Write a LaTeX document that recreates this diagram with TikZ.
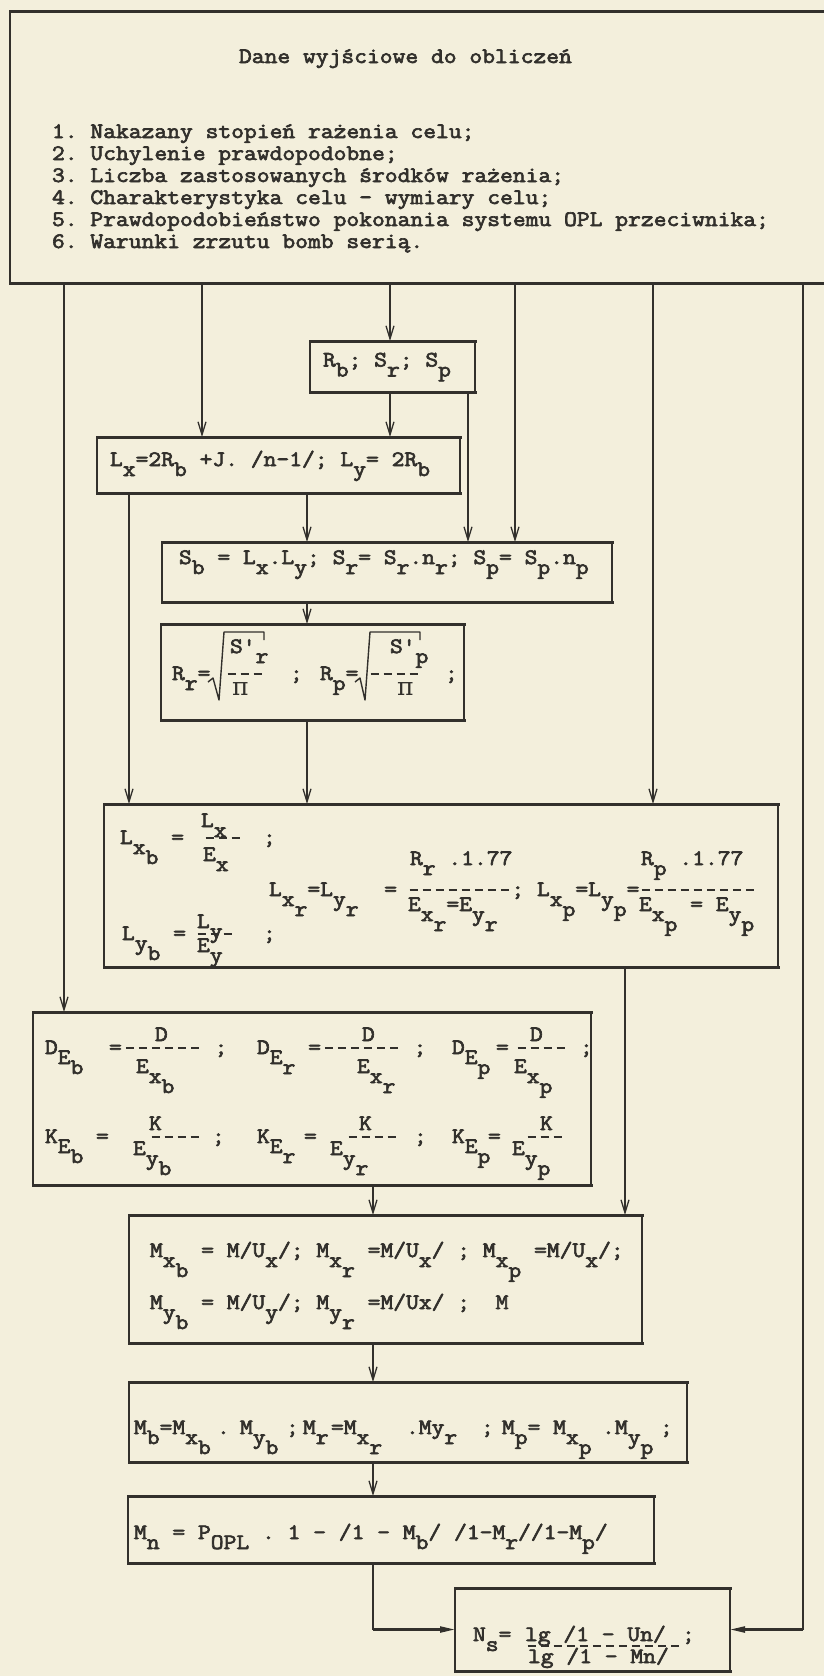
\documentclass[tikz,border=0pt]{standalone}
\usepackage{fontspec}
\setmonofont{Latin Modern Mono}[FakeStretch=1.13,FakeBold=3]
\newfontfamily\grk{DejaVu Serif}
\usetikzlibrary{arrows.meta}
\definecolor{paper}{RGB}{243,239,220}
\definecolor{ink}{RGB}{50,48,44}
\newcommand\lo[1]{\raisebox{-10pt}{#1}}
\newcommand\axy[3]{\rlap{\hspace*{#1pt}\raisebox{#2pt}{#3}}\ignorespaces}
\newcommand\PI{{\grk\fontsize{25}{25}\selectfont π}}
% typed fraction bar: x of first cell, y, number of cells
\newcommand\fbar[3]{\draw[fbar] ({#1+2.5},#2) -- ++({#3*13.05-5},0);}
\begin{document}
\begin{tikzpicture}[x=1pt,y=-1pt,
  every node/.style={font=\fontsize{22}{22}\selectfont\ttfamily\frenchspacing, text=ink},
  tb/.style={inner sep=0pt, outer sep=0pt, anchor=north west},
  side/.style={line width=1.8pt, draw=ink},
  hl/.style={line width=3pt, draw=ink, line cap=rect},
  wire/.style={line width=1.3pt, draw=ink},
  con/.style={wire, -{Straight Barb[length=13pt,width=8pt]}},
  conh/.style={line width=2.2pt, draw=ink, -{Triangle[length=15pt,width=6pt]}},
  rad/.style={line width=1.4pt, draw=ink, line join=round},
  fbar/.style={line width=1.6pt, draw=ink, dash pattern=on 8.05pt off 5pt}]
\useasboundingbox (0,0) rectangle (824,1676);
\fill[paper] (0,0) rectangle (824,1676);

\coordinate (x64) at (64,0);
\coordinate (x129) at (129,0);
\coordinate (x202) at (202,0);
\coordinate (x307) at (307,0);
\coordinate (x373) at (373,0);
\coordinate (x390) at (390,0);
\coordinate (x468) at (468,0);
\coordinate (x515) at (515,0);
\coordinate (x625) at (625,0);
\coordinate (x653) at (653,0);
\coordinate (x803) at (803,0);

% ---------------- boxes ----------------
\node[tb, text height=52pt, text depth=220pt] (b1) at (10,11) {\makebox[814pt][l]{%
\axy{229}{0}{Dane wyjściowe do obliczeń}%
\axy{42}{-75}{1. Nakazany stopień rażenia celu;}%
\axy{42}{-97}{2. Uchylenie prawdopodobne;}%
\axy{42}{-119}{3. Liczba zastosowanych środków rażenia;}%
\axy{42}{-141}{4. Charakterystyka celu - wymiary celu;}%
\axy{42}{-163}{5. Prawdopodobieństwo pokonania systemu OPL przeciwnika;}%
\axy{42}{-185}{6. Warunki zrzutu bomb serią.}%
}};

\node[tb, text height=25.5pt, text depth=25.5pt] (rb) at (310,341) {\makebox[165pt][l]{%
\axy{13}{0}{R\lo{b}; S\lo{r}; S\lo{p}}}};

\node[tb, text height=29pt, text depth=27pt] (b2) at (97,437) {\makebox[363pt][l]{%
\axy{13}{0}{L\lo{x}=2R\lo{b} +J. /n-1/; L\lo{y}= 2R\lo{b}}}};

\node[tb, text height=22pt, text depth=38pt] (b3) at (162,542) {\makebox[450pt][l]{%
\axy{17}{0}{S\lo{b} = L\lo{x}.L\lo{y}; S\lo{r}= S\lo{r}.n\lo{r}; S\lo{p}= S\lo{p}.n\lo{p}}}};

\node[tb, text height=56pt, text depth=40pt] (b4) at (161,624) {\makebox[303pt][l]{%
\axy{11}{0}{R\lo{r}=}%
\axy{69}{27}{S'\lo{r}}%
\axy{71}{-15}{\PI}%
\axy{129}{0}{;}%
\axy{159}{0}{R\lo{p}=}%
\axy{229}{27}{S'\lo{p}}%
\axy{236}{-15}{\PI}%
\axy{284}{0}{;}%
}};

\node[tb, text height=40pt, text depth=123pt] (b5) at (104,804) {\makebox[674pt][l]{%
\axy{16}{0}{L\lo{x\lo{b}} =}%
\axy{97}{17}{L\lo{x}}%
\axy{99}{-17}{E\lo{x}}%
\axy{159}{0}{;}%
\axy{18}{-96}{L\lo{y\lo{b}} =}%
\axy{93}{-84}{L\lo{y}}%
\axy{93}{-108}{E\lo{y}}%
\axy{159}{-96}{;}%
\axy{165}{-52}{L\lo{x\lo{r}}=L\lo{y\lo{r}}~~=}%
\axy{407.4}{-52}{; L\lo{x\lo{p}}=L\lo{y\lo{p}}=}%
\axy{306}{-21}{R\lo{r} .1.77}%
\axy{304}{-67}{E\lo{x\lo{r}}=E\lo{y\lo{r}}}%
\axy{537}{-21}{R\lo{p} .1.77}%
\axy{535}{-67}{E\lo{x\lo{p}} = E\lo{y\lo{p}}}%
}};

\node[tb, text height=42pt, text depth=131pt] (b6) at (33,1012) {\makebox[558pt][l]{%
\axy{12}{0}{D\lo{E\lo{b}}~~=}%
\axy{181.6}{0}{;}%
\axy{122}{13}{D}%
\axy{103}{-19}{E\lo{x\lo{b}}}%
\axy{224}{0}{D\lo{E\lo{r}} =}%
\axy{380.6}{0}{;}%
\axy{329}{13}{D}%
\axy{324}{-19}{E\lo{x\lo{r}}}%
\axy{419}{0}{D\lo{E\lo{p}}}%
\axy{463}{0}{=}%
\axy{547}{0}{;}%
\axy{497}{13}{D}%
\axy{481}{-19}{E\lo{x\lo{p}}}%
\axy{12}{-89}{K\lo{E\lo{b}}}%
\axy{63}{-89}{=}%
\axy{116}{-76}{K}%
\axy{100}{-101}{E\lo{y\lo{b}}}%
\axy{179}{-89}{;}%
\axy{224}{-89}{K\lo{E\lo{r}}}%
\axy{271}{-89}{=}%
\axy{326}{-76}{K}%
\axy{297}{-101}{E\lo{y\lo{r}}}%
\axy{381}{-89}{;}%
\axy{419}{-89}{K\lo{E\lo{p}}}%
\axy{455}{-89}{=}%
\axy{507}{-76}{K}%
\axy{479}{-101}{E\lo{y\lo{p}}}%
}};

\node[tb, text height=42pt, text depth=86pt] (b7) at (129,1215) {\makebox[513pt][l]{%
\axy{21}{0}{M\lo{x\lo{b}} = M/U\lo{x}/; M\lo{x\lo{r}} =M/U\lo{x}/ ; M\lo{x\lo{p}} =M/U\lo{x}/;}%
\axy{21}{-52}{M\lo{y\lo{b}} = M/U\lo{y}/; M\lo{y\lo{r}} =M/Ux/ ;~~M}%
}};

\node[tb, text height=52pt, text depth=28pt] (b8) at (129,1382) {\makebox[558pt][l]{%
\axy{5}{0}{M\lo{b}=M\lo{x\lo{b}}}%
\axy{88}{0}{.}%
\axy{111}{0}{M\lo{y\lo{b}}}%
\axy{157}{0}{;}%
\axy{174}{0}{M\lo{r}}%
\axy{202}{0}{=M\lo{x\lo{r}}}%
\axy{277}{0}{.My\lo{r}}%
\axy{352}{0}{;}%
\axy{373}{0}{M\lo{p}= M\lo{x\lo{p}}}%
\axy{473}{0}{.}%
\axy{486}{0}{M\lo{y\lo{p}}}%
\axy{531}{0}{;}%
}};

\node[tb, text height=43pt, text depth=24pt] (b9) at (128,1496) {\makebox[526pt][l]{%
\axy{6}{0}{M\lo{n} = P\lo{OPL} . 1 - /1 - M\lo{b}/ /1-M\lo{r}//1-M\lo{p}/}}};

\node[tb, text height=53pt, text depth=30pt] (b10) at (455,1588) {\makebox[275pt][l]{%
\axy{18}{0}{N\lo{s}=}%
\axy{70}{0}{lg /1 - Un/}%
\axy{227}{0}{;}%
\axy{73}{-22}{lg /1 - Mn/}%
}};

% box outlines
\draw[side] (b1.north west) -- (b1.south west);
\draw[hl] (b1.north west) -- (b1.north east);
\draw[hl] (b1.south west) -- (b1.south east);
\foreach \b in {rb,b2,b3,b4,b5,b6,b7,b8,b9,b10}{
  \draw[side] (\b.south west) rectangle (\b.north east);
  \draw[hl] (\b.north west) -- (\b.north east);
  \draw[hl] (\b.south west) -- (\b.south east);
}

% radicals in b4
\draw[rad] (208,682) -- (213,678) -- (219,700) -- (224,632) -- (264,632) -- (264,640);
\draw[rad] (355,682) -- (360,678) -- (365,700) -- (370,632) -- (420,632) -- (420,640);

% typed fraction bars
\fbar{225}{674}{3}
\fbar{368}{674}{4}
\fbar{203}{838}{3}
\fbar{195}{934}{3}
\fbar{407}{890}{8}
\fbar{639}{890}{9}
\fbar{123.3}{1048}{6}
\fbar{322.3}{1048}{6}
\fbar{515}{1048}{4}
\fbar{149}{1137}{4}
\fbar{346}{1137}{4}
\fbar{525}{1137}{3}
\fbar{525}{1646}{12}

% ---------------- connectors ----------------
\draw[con] (b1.south -| x64) -- (b6.north -| x64);
\draw[con] (b1.south -| x202) -- (b2.north -| x202);
\draw[con] (b1.south -| x390) -- (rb.north -| x390);
\draw[con] (b1.south -| x515) -- (b3.north -| x515);
\draw[con] (b1.south -| x653) -- (b5.north -| x653);
\draw[wire] (b1.south -| x803) -- (b10.east -| x803);
\draw[conh] (b10.east -| x803) -- (b10.east);
\draw[con] (rb.south -| x390) -- (b2.north -| x390);
\draw[con] (rb.south -| x468) -- (b3.north -| x468);
\draw[con] (b2.south -| x307) -- (b3.north -| x307);
\draw[con] (b2.south -| x129) -- (b5.north -| x129);
\draw[con] (b3.south -| x307) -- (b4.north -| x307);
\draw[con] (b4.south -| x307) -- (b5.north -| x307);
\draw[con] (b5.south -| x625) -- (b7.north -| x625);
\draw[con] (b6.south -| x373) -- (b7.north -| x373);
\draw[con] (b7.south -| x373) -- (b8.north -| x373);
\draw[con] (b8.south -| x373) -- (b9.north -| x373);
\draw[wire] (b9.south -| x373) -- (b10.west -| x373);
\draw[conh] (b10.west -| x373) -- (b10.west);
\end{tikzpicture}
\end{document}
